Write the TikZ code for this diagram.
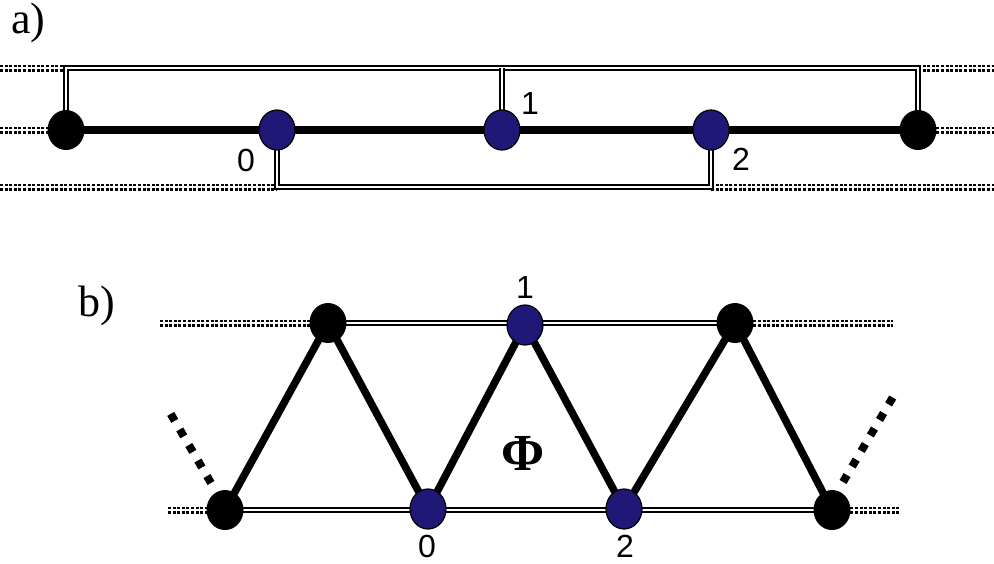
\documentclass[tikz,border=0pt]{standalone}
\usepackage{fontspec}
\setmainfont{Liberation Serif}
\newfontfamily\digitfont{Liberation Sans}
\usetikzlibrary{shapes.geometric}
\definecolor{navy}{RGB}{32,24,118}
\tikzset{
  bgline/.style={draw=black, line width=2.4pt, double=white, double distance=2.2pt, dash pattern=on 3pt off 1.6pt},
  dline/.style={draw=black, line width=2.1pt, double=white, double distance=2.6pt},
  bond/.style={line width=7.5pt, draw=black},
  dotbond/.style={line width=8pt, draw=black, dash pattern=on 8pt off 10pt},
  blk/.style={ellipse, fill=black, minimum width=37pt, minimum height=40pt, inner sep=0pt},
  blu/.style={ellipse, fill=navy, draw=black, line width=1.2pt, minimum width=36pt, minimum height=40pt, inner sep=0pt},
  lab/.style={font=\digitfont\fontsize{32}{34}\selectfont, anchor=base, inner sep=0pt},
  part/.style={font=\fontsize{44}{46}\selectfont, anchor=base west, inner sep=0pt}
}
\begin{document}
\begin{tikzpicture}[x=1pt,y=-1pt]
\useasboundingbox (0,0) rectangle (994,563);
% ---------- part a ----------
\node[part] (pa) at (11,33) {a)};
\coordinate (L) at (66,130);
\coordinate (A0) at (277,130);
\coordinate (A1) at (502,130);
\coordinate (A2) at (711,130);
\coordinate (R) at (918,130);
% background dotted lines
\coordinate (t0) at (0,68);
\coordinate (t1) at (994,68);
\coordinate (m0) at (0,130);
\coordinate (m1) at (994,130);
\coordinate (b0) at (0,187);
\coordinate (b1) at (994,187);
\draw[bgline] (t0) -- (L|-t0);
\draw[bgline] (R|-t0) -- (t1);
\draw[bgline] (m0) -- (L);
\draw[bgline] (R) -- (m1);
\draw[bgline] (b0) -- (A0|-b0);
\draw[bgline] (A2|-b0) -- (b1);
% double lines
\draw[dline] (L) -- (L|-t0) -- (R|-t0) -- (R);
\draw[dline] (A1) -- (A1|-t0);
\draw[dline] (A0) -- (A0|-b0) -- (A2|-b0) -- (A2);
% thick chain
\draw[bond] (L) -- (A0) -- (A1) -- (A2) -- (R);
\node[blk] (nL) at (L) {};
\node[blu] (n0) at (A0) {};
\node[blu] (n1) at (A1) {};
\node[blu] (n2) at (A2) {};
\node[blk] (nR) at (R) {};
\node[lab] (l0) at (246,171) {0};
\node[lab] (l1) at (530,114) {1};
\node[lab] (l2) at (741,170) {2};
% ---------- part b ----------
\node[part] (pb) at (78,316) {b)};
\coordinate (P) at (225,510);
\coordinate (Q) at (328,323);
\coordinate (B0) at (428,509);
\coordinate (B1) at (525,325);
\coordinate (B2) at (624,509);
\coordinate (S) at (735,323);
\coordinate (T) at (832,510);
\coordinate (ut0) at (160,323);
\coordinate (ut1) at (893,323);
\coordinate (lb0) at (168,510);
\coordinate (lb1) at (900,510);
\draw[bgline] (ut0) -- (Q);
\draw[bgline] (S) -- (ut1);
\draw[bgline] (lb0) -- (P);
\draw[bgline] (T) -- (lb1);
\draw[dline] (Q) -- (S);
\draw[dline] (P) -- (T);
\draw[bond, line join=round] (P) -- (Q) -- (B0) -- (B1) -- (B2) -- (S) -- (T);
\coordinate (dl0) at (211,483);
\coordinate (dl1) at (169,411);
\coordinate (dr0) at (843,482);
\coordinate (dr1) at (893,397);
\draw[dotbond] (dl0) -- (dl1);
\draw[dotbond] (dr0) -- (dr1);
\node[blk] (nP) at (P) {};
\node[blk] (nQ) at (Q) {};
\node[blu] (m0n) at (B0) {};
\node[blu] (m1n) at (B1) {};
\node[blu] (m2n) at (B2) {};
\node[blk] (nS) at (S) {};
\node[blk] (nT) at (T) {};
\node[lab] (k1) at (525,298) {1};
\node[lab] (k0) at (427,557) {0};
\node[lab] (k2) at (625,557) {2};
\node[font=\bfseries\fontsize{52}{54}\selectfont, anchor=base, inner sep=0pt] (phi) at (523,470) {Φ};
\end{tikzpicture}
\end{document}
